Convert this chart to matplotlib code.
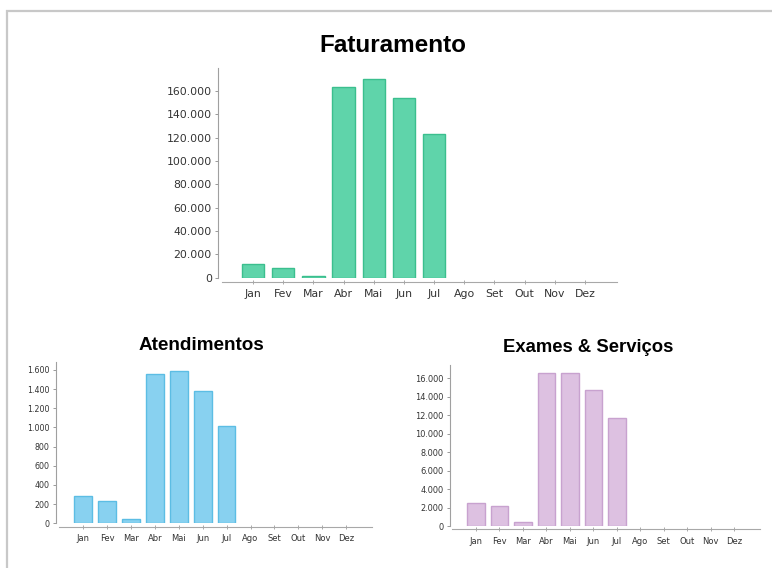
"""Painel: Faturamento, Atendimentos, Exames & Serviços por mês."""

import matplotlib
import matplotlib.pyplot as plt
import numpy as np
from matplotlib.patches import Rectangle
from matplotlib.ticker import FuncFormatter

matplotlib.use("Agg")

MESES = ["Jan", "Fev", "Mar", "Abr", "Mai", "Jun", "Jul",
         "Ago", "Set", "Out", "Nov", "Dez"]

FATURAMENTO = [11700, 8300, 1700, 163000, 170600, 153700, 122900]
ATENDIMENTOS = [285, 237, 42, 1555, 1586, 1384, 1019]
EXAMES = [2490, 2130, 470, 16580, 16570, 14730, 11700]

W, H = 772, 568


def br_fmt(v, pos):
    return f"{v:,.0f}".replace(",", ".")


def box(left, right, top, bottom):
    """pixel box -> figure coords"""
    return [left / W, 1 - bottom / H, (right - left) / W, (bottom - top) / H]


def painel(fig, rect, values, ymax, ytop, step, fill, edge, xlim, fs_y, fs_x, offset):
    ax = fig.add_axes(rect)
    x = np.arange(len(values))
    ax.bar(x, values, width=0.74, color=fill, edgecolor=edge, linewidth=1.0)
    ax.set_xlim(*xlim)
    ax.set_ylim(0, ymax)
    ax.set_xticks(np.arange(len(MESES)))
    ax.set_xticklabels(MESES)
    ax.set_yticks(np.arange(0, ytop + step, step))
    ax.yaxis.set_major_formatter(FuncFormatter(br_fmt))
    ax.tick_params(axis="y", labelsize=fs_y, colors="#999999", labelcolor="#333333",
                   length=2.5, width=0.7, pad=2)
    ax.tick_params(axis="x", labelsize=fs_x, colors="#aaaaaa", labelcolor="#333333",
                   length=2.5, width=0.7, direction="inout", pad=4)
    for s in ("top", "right"):
        ax.spines[s].set_visible(False)
    ax.spines["left"].set_color("#a0a0a0")
    ax.spines["left"].set_linewidth(0.8)
    ax.spines["bottom"].set_color("#a8a8a8")
    ax.spines["bottom"].set_linewidth(0.8)
    ax.spines["bottom"].set_position(("outward", offset))
    ax.spines["bottom"].set_bounds(-1.02, xlim[1])
    ax.patch.set_alpha(0)
    return ax


fig = plt.figure(figsize=(W / 100, H / 100), dpi=100)

# moldura cinza (só topo e esquerda aparecem)
fig.patches.append(Rectangle((7 / W, -0.1), 1.2, 1 - 11.5 / H + 0.1,
                             transform=fig.transFigure, fill=False,
                             edgecolor="#c8c8c8", linewidth=1.6))

painel(fig, box(218, 617, 67.6, 277.7), FATURAMENTO, 180000, 160000, 20000,
       "#5fd4aa", "#3bbf8e", (-1.16, 12.06), 7.8, 7.8, 3.0)
painel(fig, box(56, 371.7, 362.3, 523.3), ATENDIMENTOS, 1680, 1600, 200,
       "#88d1f0", "#5cbde4", (-1.14, 12.07), 5.7, 6.0, 2.4)
painel(fig, box(450, 759.5, 364.5, 526), EXAMES, 17500, 16000, 2000,
       "#ddc1e1", "#c8a2cf", (-1.1, 12.07), 5.9, 6.0, 2.4)

fig.text(393 / W, 1 - 45 / H, "Faturamento", ha="center", va="center",
         fontsize=17.5, fontweight="bold", family="Liberation Sans")
fig.text(201.7 / W, 1 - 345 / H, "Atendimentos", ha="center", va="center",
         fontsize=13.6, fontweight="bold", family="Liberation Sans")
fig.text(588 / W, 1 - 347 / H, "Exames & Serviços", ha="center", va="center",
         fontsize=13.3, fontweight="bold", family="Liberation Sans")

fig.savefig("out.png", dpi=100)
plt.close(fig)
